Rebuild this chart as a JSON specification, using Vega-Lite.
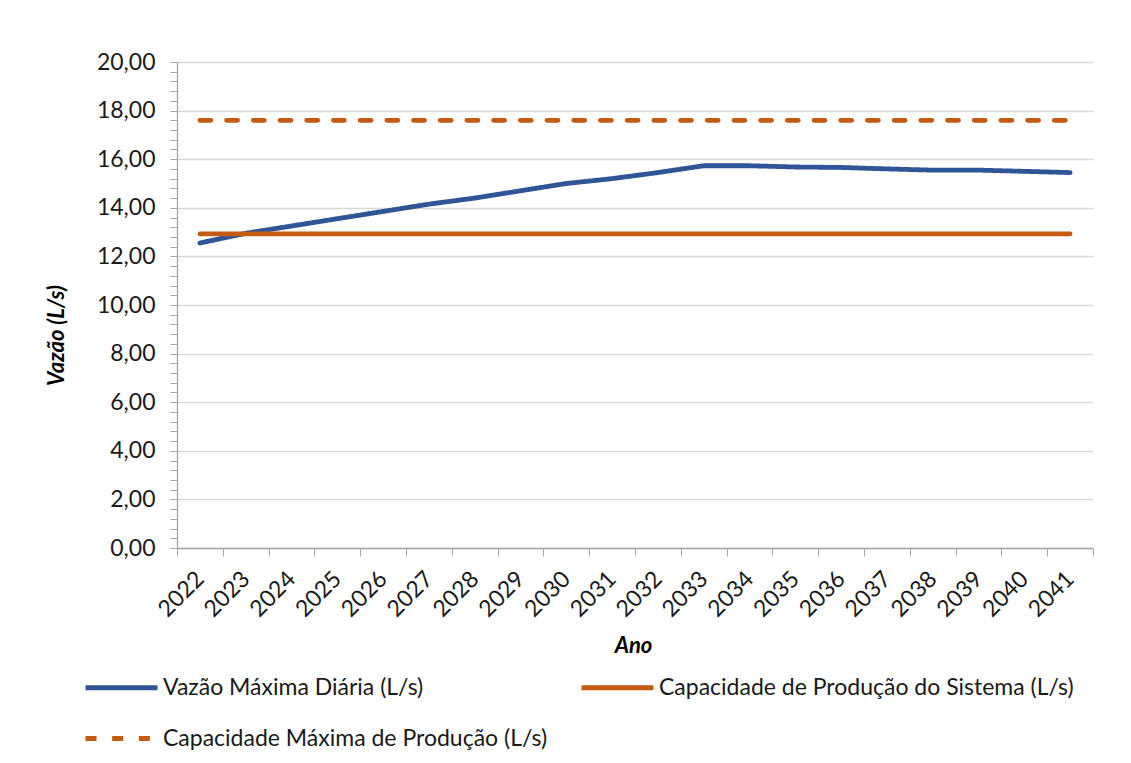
{
  "$schema": "https://vega.github.io/schema/vega-lite/v6.json",
  "width": 916,
  "height": 486,
  "autosize": {"type": "none"},
  "padding": {"left": 177, "top": 62, "right": 38, "bottom": 215},
  "background": "white",
  "config": {
    "font": "Lato",
    "view": {"stroke": null}
  },
  "data": {
    "values": [
      {"ano": "2022", "serie": "Vazão Máxima Diária (L/s)", "valor": 12.55},
      {"ano": "2023", "serie": "Vazão Máxima Diária (L/s)", "valor": 12.95},
      {"ano": "2024", "serie": "Vazão Máxima Diária (L/s)", "valor": 13.25},
      {"ano": "2025", "serie": "Vazão Máxima Diária (L/s)", "valor": 13.55},
      {"ano": "2026", "serie": "Vazão Máxima Diária (L/s)", "valor": 13.85},
      {"ano": "2027", "serie": "Vazão Máxima Diária (L/s)", "valor": 14.15},
      {"ano": "2028", "serie": "Vazão Máxima Diária (L/s)", "valor": 14.4},
      {"ano": "2029", "serie": "Vazão Máxima Diária (L/s)", "valor": 14.7},
      {"ano": "2030", "serie": "Vazão Máxima Diária (L/s)", "valor": 15.0},
      {"ano": "2031", "serie": "Vazão Máxima Diária (L/s)", "valor": 15.2},
      {"ano": "2032", "serie": "Vazão Máxima Diária (L/s)", "valor": 15.45},
      {"ano": "2033", "serie": "Vazão Máxima Diária (L/s)", "valor": 15.73},
      {"ano": "2034", "serie": "Vazão Máxima Diária (L/s)", "valor": 15.73},
      {"ano": "2035", "serie": "Vazão Máxima Diária (L/s)", "valor": 15.68},
      {"ano": "2036", "serie": "Vazão Máxima Diária (L/s)", "valor": 15.66},
      {"ano": "2037", "serie": "Vazão Máxima Diária (L/s)", "valor": 15.6},
      {"ano": "2038", "serie": "Vazão Máxima Diária (L/s)", "valor": 15.55},
      {"ano": "2039", "serie": "Vazão Máxima Diária (L/s)", "valor": 15.55},
      {"ano": "2040", "serie": "Vazão Máxima Diária (L/s)", "valor": 15.5},
      {"ano": "2041", "serie": "Vazão Máxima Diária (L/s)", "valor": 15.45},
      {"ano": "2022", "serie": "Capacidade de Produção do Sistema (L/s)", "valor": 12.93},
      {"ano": "2023", "serie": "Capacidade de Produção do Sistema (L/s)", "valor": 12.93},
      {"ano": "2024", "serie": "Capacidade de Produção do Sistema (L/s)", "valor": 12.93},
      {"ano": "2025", "serie": "Capacidade de Produção do Sistema (L/s)", "valor": 12.93},
      {"ano": "2026", "serie": "Capacidade de Produção do Sistema (L/s)", "valor": 12.93},
      {"ano": "2027", "serie": "Capacidade de Produção do Sistema (L/s)", "valor": 12.93},
      {"ano": "2028", "serie": "Capacidade de Produção do Sistema (L/s)", "valor": 12.93},
      {"ano": "2029", "serie": "Capacidade de Produção do Sistema (L/s)", "valor": 12.93},
      {"ano": "2030", "serie": "Capacidade de Produção do Sistema (L/s)", "valor": 12.93},
      {"ano": "2031", "serie": "Capacidade de Produção do Sistema (L/s)", "valor": 12.93},
      {"ano": "2032", "serie": "Capacidade de Produção do Sistema (L/s)", "valor": 12.93},
      {"ano": "2033", "serie": "Capacidade de Produção do Sistema (L/s)", "valor": 12.93},
      {"ano": "2034", "serie": "Capacidade de Produção do Sistema (L/s)", "valor": 12.93},
      {"ano": "2035", "serie": "Capacidade de Produção do Sistema (L/s)", "valor": 12.93},
      {"ano": "2036", "serie": "Capacidade de Produção do Sistema (L/s)", "valor": 12.93},
      {"ano": "2037", "serie": "Capacidade de Produção do Sistema (L/s)", "valor": 12.93},
      {"ano": "2038", "serie": "Capacidade de Produção do Sistema (L/s)", "valor": 12.93},
      {"ano": "2039", "serie": "Capacidade de Produção do Sistema (L/s)", "valor": 12.93},
      {"ano": "2040", "serie": "Capacidade de Produção do Sistema (L/s)", "valor": 12.93},
      {"ano": "2041", "serie": "Capacidade de Produção do Sistema (L/s)", "valor": 12.93},
      {"ano": "2022", "serie": "Capacidade Máxima de Produção (L/s)", "valor": 17.6},
      {"ano": "2023", "serie": "Capacidade Máxima de Produção (L/s)", "valor": 17.6},
      {"ano": "2024", "serie": "Capacidade Máxima de Produção (L/s)", "valor": 17.6},
      {"ano": "2025", "serie": "Capacidade Máxima de Produção (L/s)", "valor": 17.6},
      {"ano": "2026", "serie": "Capacidade Máxima de Produção (L/s)", "valor": 17.6},
      {"ano": "2027", "serie": "Capacidade Máxima de Produção (L/s)", "valor": 17.6},
      {"ano": "2028", "serie": "Capacidade Máxima de Produção (L/s)", "valor": 17.6},
      {"ano": "2029", "serie": "Capacidade Máxima de Produção (L/s)", "valor": 17.6},
      {"ano": "2030", "serie": "Capacidade Máxima de Produção (L/s)", "valor": 17.6},
      {"ano": "2031", "serie": "Capacidade Máxima de Produção (L/s)", "valor": 17.6},
      {"ano": "2032", "serie": "Capacidade Máxima de Produção (L/s)", "valor": 17.6},
      {"ano": "2033", "serie": "Capacidade Máxima de Produção (L/s)", "valor": 17.6},
      {"ano": "2034", "serie": "Capacidade Máxima de Produção (L/s)", "valor": 17.6},
      {"ano": "2035", "serie": "Capacidade Máxima de Produção (L/s)", "valor": 17.6},
      {"ano": "2036", "serie": "Capacidade Máxima de Produção (L/s)", "valor": 17.6},
      {"ano": "2037", "serie": "Capacidade Máxima de Produção (L/s)", "valor": 17.6},
      {"ano": "2038", "serie": "Capacidade Máxima de Produção (L/s)", "valor": 17.6},
      {"ano": "2039", "serie": "Capacidade Máxima de Produção (L/s)", "valor": 17.6},
      {"ano": "2040", "serie": "Capacidade Máxima de Produção (L/s)", "valor": 17.6},
      {"ano": "2041", "serie": "Capacidade Máxima de Produção (L/s)", "valor": 17.6}
    ]
  },
  "mark": {"type": "line", "strokeWidth": 4.8, "strokeCap": "round", "strokeJoin": "round"},
  "encoding": {
    "x": {
      "field": "ano",
      "type": "ordinal",
      "bandPosition": 0.5,
      "scale": {"type": "band", "paddingInner": 0, "paddingOuter": 0},
      "axis": {
        "title": "Ano",
        "titleFont": "Lato",
        "titleFontSize": 22,
        "titleFontWeight": "bold",
        "titleFontStyle": "italic",
        "titleColor": "#000000",
        "titleX": 456,
        "titleY": 97,
        "titleBaseline": "middle",
        "titleAlign": "center",
        "labelAngle": -45,
        "labelAlign": "right",
        "labelBaseline": "middle",
        "labelFontSize": 23,
        "labelColor": "#1a1a1a",
        "labelPadding": 19,
        "tickBand": "extent",
        "tickSize": 8,
        "tickColor": "#a6a6a6",
        "domainColor": "#a6a6a6",
        "domainWidth": 1.3,
        "grid": false
      }
    },
    "y": {
      "field": "valor",
      "type": "quantitative",
      "scale": {"domain": [0, 20], "nice": false, "zero": true},
      "axis": {
        "title": "Vazão (L/s)",
        "titleFont": "Lato",
        "titleFontSize": 22,
        "titleFontWeight": "bold",
        "titleFontStyle": "italic",
        "titleColor": "#000000",
        "titleX": -121,
        "titleY": 273,
        "titleAngle": -90,
        "titleAlign": "center",
        "titleBaseline": "middle",
        "values": [0, 0.4, 0.8, 1.2, 1.6, 2, 2.4, 2.8, 3.2, 3.6, 4, 4.4, 4.8, 5.2, 5.6, 6, 6.4, 6.8, 7.2, 7.6, 8, 8.4, 8.8, 9.2, 9.6, 10, 10.4, 10.8, 11.2, 11.6, 12, 12.4, 12.8, 13.2, 13.6, 14, 14.4, 14.8, 15.2, 15.6, 16, 16.4, 16.8, 17.2, 17.6, 18, 18.4, 18.8, 19.2, 19.6, 20],
        "labelExpr": "datum.value % 2 === 0 ? replace(format(datum.value, '.2f'), '.', ',') : ''",
        "labelFontSize": 23,
        "labelColor": "#1a1a1a",
        "labelPadding": 15,
        "labelOverlap": false,
        "labelFlush": false,
        "tickSize": 7,
        "tickColor": "#a6a6a6",
        "domainColor": "#a6a6a6",
        "domainWidth": 1.3,
        "grid": true,
        "gridColor": "#d9d9d9",
        "gridWidth": 1.3,
        "gridOpacity": {"condition": {"test": "datum.value % 2 === 0", "value": 1}, "value": 0}
      }
    },
    "color": {
      "field": "serie",
      "type": "nominal",
      "scale": {
        "domain": ["Vazão Máxima Diária (L/s)", "Capacidade de Produção do Sistema (L/s)", "Capacidade Máxima de Produção (L/s)"],
        "range": ["#2F5597", "#C55A11", "#C55A11"]
      },
      "legend": {
        "title": null,
        "orient": "none",
        "direction": "horizontal",
        "legendX": -94,
        "legendY": 587,
        "columns": 2,
        "columnPadding": 23,
        "rowPadding": 0,
        "symbolType": "stroke",
        "symbolSize": 5184,
        "symbolStrokeWidth": 5,
        "labelFontSize": 23,
        "labelColor": "#1a1a1a",
        "labelOffset": 3,
        "labelLimit": 600
      }
    },
    "strokeDash": {
      "field": "serie",
      "type": "nominal",
      "scale": {
        "domain": ["Vazão Máxima Diária (L/s)", "Capacidade de Produção do Sistema (L/s)", "Capacidade Máxima de Produção (L/s)"],
        "range": [[1, 0], [1, 0], [11, 15.7]]
      },
      "legend": {
        "title": null,
        "orient": "none",
        "direction": "horizontal",
        "legendX": -94,
        "legendY": 587,
        "columns": 2,
        "columnPadding": 23,
        "rowPadding": 0,
        "symbolType": "stroke",
        "symbolSize": 5184,
        "symbolStrokeWidth": 5,
        "labelFontSize": 23,
        "labelColor": "#1a1a1a",
        "labelOffset": 3,
        "labelLimit": 600
      }
    }
  }
}
